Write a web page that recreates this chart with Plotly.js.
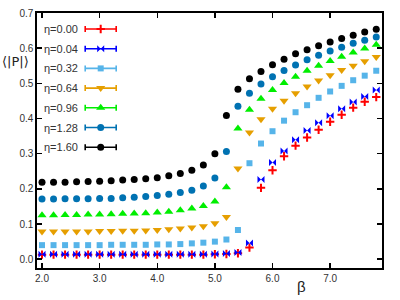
<!DOCTYPE html>
<html>
<head>
<meta charset="utf-8">
<script src="https://cdn.plot.ly/plotly-3.0.1.min.js"></script>
<style>html,body{margin:0;padding:0;background:#fff;}#chart{width:400px;height:300px;}</style>
</head>
<body>
<div id="chart"></div>
<script>
const beta = [2.0,2.2,2.4,2.6,2.8,3.0,3.2,3.4,3.6,3.8,4.0,4.2,4.4,4.6,4.8,5.0,5.2,5.4,5.6,5.8,6.0,6.2,6.4,6.6,6.8,7.0,7.2,7.4,7.6,7.8];

const eta000 = [0.013,0.013,0.013,0.013,0.013,0.013,0.013,0.013,0.013,0.013,0.013,0.013,0.013,0.013,0.013,0.014,0.015,0.017,0.033,0.203,0.253,0.293,0.323,0.346,0.368,0.391,0.411,0.431,0.448,0.461];
const eta004 = [0.014,0.014,0.014,0.014,0.014,0.014,0.014,0.014,0.014,0.014,0.014,0.014,0.014,0.014,0.014,0.015,0.016,0.019,0.046,0.227,0.275,0.308,0.340,0.366,0.388,0.408,0.428,0.447,0.463,0.481];
const eta032 = [0.040,0.040,0.040,0.040,0.040,0.040,0.041,0.041,0.041,0.041,0.042,0.042,0.043,0.045,0.047,0.050,0.056,0.083,0.273,0.329,0.364,0.394,0.418,0.438,0.459,0.477,0.493,0.509,0.522,0.536];
const eta064 = [0.079,0.079,0.079,0.079,0.079,0.080,0.080,0.081,0.081,0.082,0.083,0.085,0.087,0.090,0.094,0.102,0.120,0.258,0.360,0.398,0.428,0.451,0.472,0.491,0.508,0.523,0.538,0.550,0.563,0.575];
const eta096 = [0.125,0.125,0.126,0.126,0.127,0.127,0.128,0.129,0.130,0.131,0.133,0.135,0.139,0.144,0.151,0.164,0.205,0.372,0.425,0.456,0.481,0.501,0.519,0.536,0.550,0.564,0.576,0.588,0.599,0.610];
const eta128 = [0.171,0.171,0.172,0.172,0.172,0.173,0.173,0.175,0.176,0.178,0.181,0.185,0.190,0.196,0.208,0.231,0.306,0.435,0.472,0.498,0.519,0.537,0.552,0.567,0.580,0.592,0.603,0.614,0.623,0.632];
const eta160 = [0.219,0.219,0.219,0.220,0.221,0.222,0.223,0.225,0.227,0.229,0.232,0.237,0.244,0.253,0.268,0.300,0.409,0.483,0.513,0.534,0.553,0.569,0.584,0.596,0.607,0.618,0.628,0.637,0.646,0.654];

const labels = ["η=0.00","η=0.04","η=0.32","η=0.64","η=0.96","η=1.28","η=1.60"];
const xTickVals = [2,3,4,5,6,7];
const xTickText = ["2.0","3.0","4.0","5.0","6.0","7.0"];
const yTickVals = [0,0.1,0.2,0.3,0.4,0.5,0.6,0.7];
const yTickText = ["0.0","0.1","0.2","0.3","0.4","0.5","0.6","0.7"];

const series = [eta000, eta004, eta032, eta064, eta096, eta128, eta160];
const colors = ["#ff0000","#0000ff","#56b4e9","#e69f00","#00ee00","#0072b2","#000000"];
const symbols = ["cross-thin","bowtie","square","triangle-down","triangle-up","circle","circle"];
const sizes = [6,7,6,8,8,7,7];
const lineW = [2,0,0,0,0,0,0];

function mk(i){
  return {symbol:symbols[i], size:sizes[i], color:colors[i], line:{width:lineW[i], color:colors[i]}};
}

const traces = [];
series.forEach((s,i)=>{
  traces.push({
    x: beta, y: s, type:'scatter', mode:'markers',
    marker:mk(i), showlegend:false, xaxis:'x', yaxis:'y', hoverinfo:'skip', cliponaxis:false
  });
});

// legend samples drawn on a pixel-unit overlay axis
const plotL = 37, plotR = 382, plotT = 13.3, plotB = 268.3;
const legRow0 = 29.3, legGap = 19.7, legX = 100.7, legHalf = 15.5;
const annotations = [];
labels.forEach((lab,i)=>{
  const yy = legRow0 + i*legGap;
  traces.push({
    x:[legX], y:[yy], type:'scatter', mode:'markers',
    marker:mk(i),
    error_x:{type:'constant', value:legHalf, width:3, thickness:1.6, color:colors[i]},
    showlegend:false, xaxis:'x2', yaxis:'y2', hoverinfo:'skip'
  });
  annotations.push({
    xref:'x2', yref:'y2', x:80, y:yy, text:lab, showarrow:false,
    xanchor:'right', yanchor:'middle',
    font:{family:'Liberation Sans, Arial, sans-serif', size:11, color:'#333'}
  });
});

annotations.push({
  xref:'paper', yref:'y', x:-37/345, y:0.562, text:'⟨|P|⟩', showarrow:false,
  xanchor:'left', yanchor:'middle',
  font:{family:'DejaVu Sans, Liberation Sans, sans-serif', size:13, color:'#222'}
});
annotations.push({
  xref:'x', yref:'paper', x:6.51, y:-0.073, text:'β', showarrow:false,
  xanchor:'center', yanchor:'middle',
  font:{family:'Liberation Sans, Arial, sans-serif', size:15, color:'#222'}
});

const axCommon = {
  showline:true, linecolor:'#000', linewidth:1.6, mirror:'ticks',
  ticks:'inside', ticklen:5, tickwidth:1.5, tickcolor:'#000',
  showgrid:false, zeroline:false, tickmode:'array',
  tickfont:{family:'Liberation Sans, Arial, sans-serif', size:10, color:'#333'},
  fixedrange:true, automargin:false
};

const layout = {
  width:400, height:300,
  margin:{l:plotL, r:400-plotR, t:plotT, b:300-plotB},
  paper_bgcolor:'#fff', plot_bgcolor:'#fff',
  showlegend:false,
  xaxis:Object.assign({}, axCommon, {range:[1.913, 7.9], tickvals:xTickVals, ticktext:xTickText}),
  yaxis:Object.assign({}, axCommon, {range:[-0.025, 0.7002], tickvals:yTickVals, ticktext:yTickText}),
  xaxis2:{overlaying:'x', anchor:'free', position:0, range:[plotL, plotR], visible:false, fixedrange:true},
  yaxis2:{overlaying:'y', anchor:'free', position:0, range:[plotB, plotT], visible:false, fixedrange:true},
  annotations:annotations
};

Plotly.newPlot('chart', traces, layout, {staticPlot:true, displayModeBar:false});
</script>
</body>
</html>
